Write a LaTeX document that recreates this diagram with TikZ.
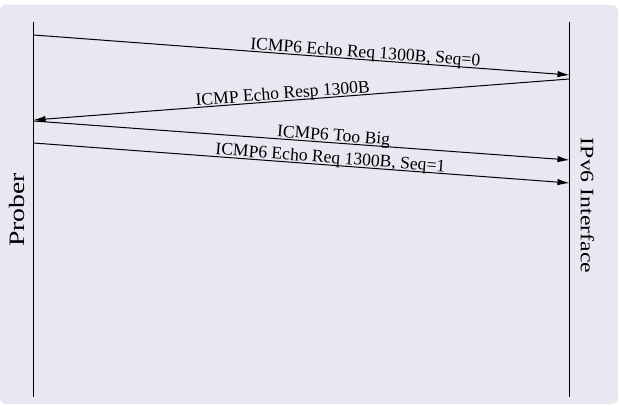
\documentclass[tikz,border=0pt]{standalone}
\usepackage{fontspec}
\setmainfont{Liberation Serif}
\usetikzlibrary{arrows.meta}
\definecolor{bgfill}{RGB}{232,232,242}
\begin{document}
\begin{tikzpicture}[x=1pt,y=-1pt,
  lifeline/.style={line width=1pt},
  msg/.style={line width=1pt,-{Latex[length=12pt,width=6.5pt]}},
  msglabel/.style={sloped,above=1.5pt,inner sep=0pt,text depth=0pt,font=\fontsize{17.6}{20}\selectfont},
  actor/.style={inner sep=0pt}
]
\useasboundingbox (0,0) rectangle (619,406);
\fill[bgfill, rounded corners=6pt] (0,5) rectangle (618,404);
% lifelines
\coordinate (pTop) at (33.5,22);
\coordinate (pBot) at (33.5,397);
\coordinate (iTop) at (569.5,22);
\coordinate (iBot) at (569.5,397);
\draw[lifeline] (pTop) -- (pBot);
\draw[lifeline] (iTop) -- (iBot);
% actors
\node[actor, rotate=90, font=\fontsize{22}{24}\selectfont] (prober) at (17,210) {\scalebox{1.26}[1]{Prober}};
\node[actor, rotate=-90, font=\fontsize{19}{22}\selectfont] (iface) at (587.5,205.5) {\scalebox{1.25}[1]{IPv6 Interface}};
% message endpoints
\coordinate (a1) at (33.5,35);  \coordinate (b1) at (569.5,75);
\coordinate (b2) at (569.5,79); \coordinate (a2) at (33.5,120);
\coordinate (a3) at (33.5,121); \coordinate (b3) at (569.5,160);
\coordinate (a4) at (33.5,143); \coordinate (b4) at (569.5,183);
% messages
\draw[msg] (a1) -- node[msglabel, pos=0.618] (m1) {ICMP6 Echo Req 1300B, Seq=0} (b1);
\draw[msg] (b2) -- node[msglabel, pos=0.534] (m2) {ICMP Echo Resp 1300B} (a2);
\draw[msg] (a3) -- node[msglabel, pos=0.559] (m3) {ICMP6 Too Big} (b3);
\draw[msg] (a4) -- node[msglabel, pos=0.553] (m4) {ICMP6 Echo Req 1300B, Seq=1} (b4);
\end{tikzpicture}
\end{document}
